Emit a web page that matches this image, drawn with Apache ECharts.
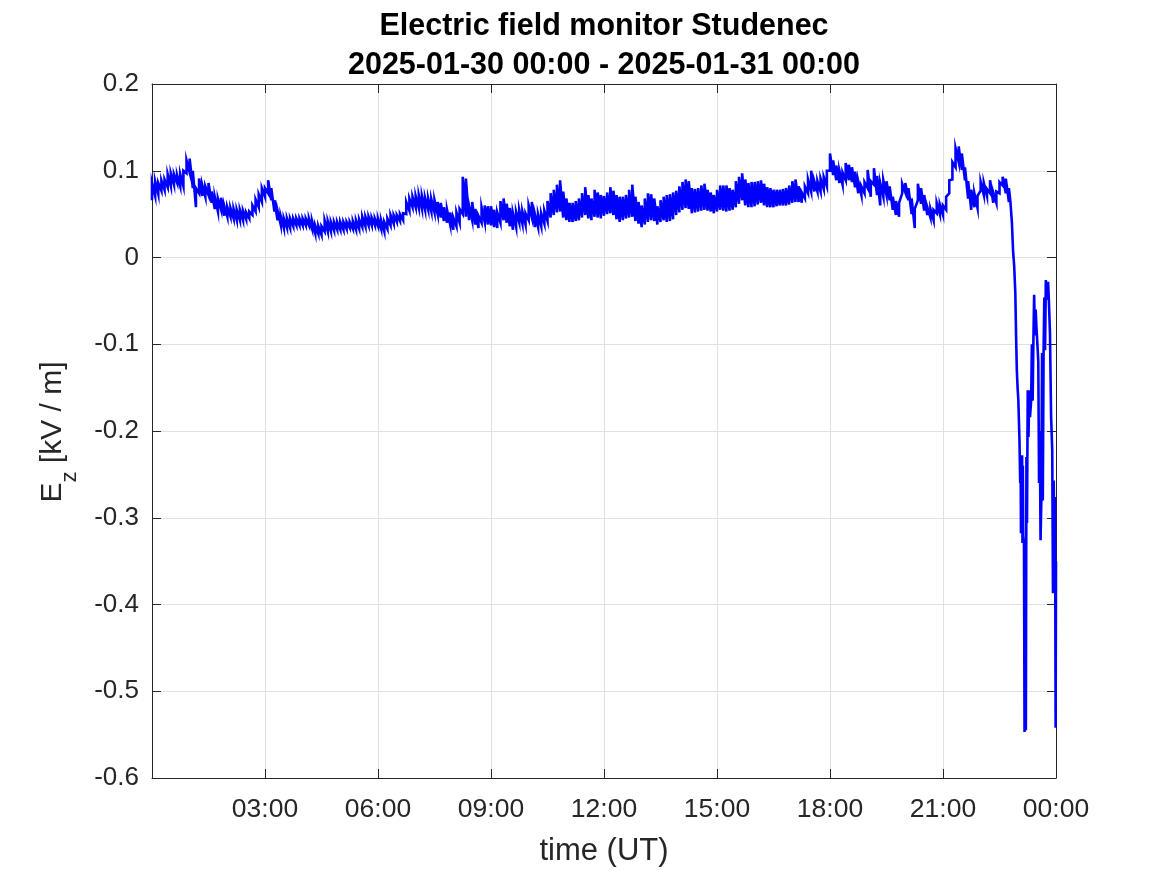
<!DOCTYPE html>
<html>
<head>
<meta charset="utf-8">
<script src="https://cdn.jsdelivr.net/npm/echarts@6/dist/echarts.min.js"></script>
<style>html,body{margin:0;padding:0;background:#fff}#c{width:1167px;height:875px}</style>
</head>
<body>
<div id="c"></div>
<script>
// Ez [kV/m]: upper and lower edge of the noisy trace, every 5 minutes from 00:00 to 22:45 UT
const stepMinutes = 5;
const ezHigh = [
 .086,.088,.086,.089,.090,.096,.097,.096,.095,.096,.100,.112,
 .114,.100,.080,.091,.084,.082,.086,.076,.070,.068,.069,.060,
 .058,.057,.056,.055,.055,.054,.052,.053,.060,.067,.073,.080,
 .080,.089,.080,.066,.054,.048,.045,.045,.045,.045,.045,.045,
 .045,.045,.045,.042,.037,.036,.036,.043,.042,.041,.041,.041,
 .041,.041,.041,.041,.042,.043,.044,.047,.047,.047,.046,.045,
 .045,.043,.041,.045,.049,.049,.049,.050,.051,.064,.068,.070,
 .071,.072,.071,.069,.068,.067,.066,.064,.063,.058,.055,.052,
 .046,.052,.056,.093,.091,.060,.064,.056,.048,.058,.060,.059,
 .059,.055,.052,.065,.068,.062,.057,.051,.053,.055,.053,.051,
 .060,.064,.050,.050,.051,.054,.065,.074,.078,.084,.089,.076,
 .068,.063,.063,.065,.068,.074,.081,.072,.068,.078,.075,.072,
 .071,.075,.081,.077,.072,.070,.070,.072,.078,.084,.070,.064,
 .060,.068,.074,.073,.068,.059,.066,.070,.072,.073,.075,.077,
 .082,.087,.090,.088,.080,.079,.080,.083,.085,.078,.075,.072,
 .078,.083,.083,.083,.080,.078,.088,.093,.097,.090,.086,.087,
 .087,.088,.089,.085,.081,.080,.078,.078,.078,.079,.080,.083,
 .088,.090,.082,.075,.082,.090,.100,.088,.088,.091,.093,.100,
 .120,.112,.106,.100,.098,.109,.107,.104,.099,.088,.082,.087,
 .101,.088,.103,.094,.086,.089,.088,.082,.070,.065,.063,.085,
 .086,.080,.068,.056,.085,.080,.072,.058,.056,.055,.063,.061,
 .060,.070,.089,.110,.126,.128,.120,.104,.088,.078,.074,.071,
 .087,.086,.079,.089,.075,.076,.087,.093,.091,.080
];
const ezLow = [
 .066,.071,.073,.077,.078,.081,.082,.084,.086,.082,.082,.097,
 .098,.080,.058,.074,.071,.070,.072,.063,.056,.053,.055,.048,
 .047,.047,.045,.043,.043,.043,.044,.045,.049,.053,.058,.064,
 .070,.074,.066,.053,.043,.038,.034,.034,.034,.036,.037,.037,
 .037,.037,.037,.033,.028,.027,.026,.030,.030,.030,.031,.032,
 .032,.032,.033,.034,.033,.032,.033,.035,.036,.037,.037,.037,
 .036,.033,.030,.033,.037,.039,.041,.042,.043,.050,.054,.058,
 .058,.057,.056,.055,.055,.053,.052,.050,.046,.042,.040,.038,
 .032,.036,.040,.050,.047,.043,.043,.038,.034,.040,.041,.038,
 .037,.035,.034,.040,.043,.040,.036,.032,.035,.040,.039,.038,
 .043,.046,.035,.035,.036,.039,.042,.046,.049,.052,.053,.046,
 .043,.041,.041,.042,.043,.046,.049,.045,.043,.047,.046,.045,
 .048,.050,.051,.049,.044,.041,.043,.045,.046,.047,.042,.039,
 .035,.038,.041,.043,.042,.038,.041,.043,.041,.042,.044,.049,
 .052,.055,.057,.056,.051,.052,.053,.054,.055,.054,.053,.051,
 .053,.055,.054,.053,.054,.055,.058,.062,.066,.060,.058,.058,
 .059,.061,.063,.060,.058,.058,.058,.059,.060,.060,.060,.061,
 .063,.064,.064,.063,.068,.074,.076,.076,.076,.076,.079,.082,
 .100,.095,.089,.086,.084,.089,.089,.087,.081,.074,.072,.074,
 .080,.070,.084,.072,.060,.070,.072,.066,.055,.049,.047,.074,
 .075,.066,.050,.034,.066,.062,.054,.049,.046,.043,.051,.050,
 .049,.055,.074,.090,.104,.110,.101,.089,.068,.055,.058,.057,
 .077,.072,.071,.074,.063,.063,.074,.083,.074,.064
];
// Final part (22:47 - 24:00 UT), irregular times in hours
const tailHours = [
 22.79,22.83,22.86,22.89,22.92,22.94,22.96,22.98,23.00,23.03,23.05,23.06,23.07,23.08,23.09,23.10,23.11,23.12,23.13,23.15,
 23.165,23.18,23.20,23.215,23.23,23.25,23.27,23.29,23.31,23.34,23.36,23.38,23.40,23.42,23.44,23.46,
 23.48,23.51,23.53,23.55,23.57,23.59,23.61,23.63,23.65,23.67,23.69,23.71,23.73,23.76,23.79,23.81,
 23.84,23.87,23.90,23.92,23.94,23.96,23.975,23.99,24.0
];
const tailValues = [
 0.064,0.040,0.008,-0.010,-0.041,-0.090,-0.130,-0.150,-0.164,-0.210,-0.260,-0.230,-0.318,-0.240,-0.300,-0.228,-0.329,-0.240,-0.320,-0.330,
 -0.547,-0.400,-0.545,-0.230,-0.306,-0.153,-0.207,-0.153,-0.184,-0.165,-0.100,-0.165,-0.095,-0.043,-0.090,-0.060,
 -0.080,-0.103,-0.120,-0.260,-0.200,-0.326,-0.280,-0.110,-0.280,-0.110,-0.046,-0.107,-0.026,-0.049,-0.028,-0.049,
 -0.087,-0.184,-0.222,-0.387,-0.257,-0.357,-0.276,-0.542,-0.350
];
const xTickHours = [0,3,6,9,12,15,18,21,24];
const yTicks = [-0.6,-0.5,-0.4,-0.3,-0.2,-0.1,0,0.1,0.2];

const seriesData = [];
ezHigh.forEach((hi,i)=>{
  const t = i*stepMinutes/60;
  seriesData.push([t, ezLow[i]], [t, hi]);
});
tailHours.forEach((h,i)=>seriesData.push([h, tailValues[i]]));

const pad = n => (n<10?'0':'')+n;
const xFmt = v => v===0 ? '' : pad(Math.round(v)%24)+':00';
const yFmt = v => { const r = Math.round(v*10)/10; return r===0 ? '0' : String(r); };

const FONT = '"Liberation Sans", Arial, Helvetica, sans-serif';
const axisCol = '#262626';
const gridCol = '#e1e1e1';

// y-axis label "E_z [kV / m]" built from three rotated text pieces
const labFS = 30, subFS = 22;
const mctx = document.createElement('canvas').getContext('2d');
mctx.font = labFS + 'px ' + FONT;
const wE = mctx.measureText('E').width;
const wRest = mctx.measureText(' [kV / m]').width;
mctx.font = subFS + 'px ' + FONT;
const wZ = mctx.measureText('z').width;
const labStart = -(wE + wZ + wRest) / 2;
const txt = (s, x, y, fs) => ({type:'text', x:x, y:y, silent:true,
  style:{text:s, fontSize:fs, fontFamily:FONT, fill:axisCol, align:'left', verticalAlign:'middle',
         textAlign:'left', textVerticalAlign:'middle'}});

const chart = echarts.init(document.getElementById('c'), null, {renderer:'canvas'});
chart.setOption({
  animation:false,
  backgroundColor:'#ffffff',
  textStyle:{fontFamily:FONT},
  title:{
    text:'Electric field monitor Studenec\n2025-01-30 00:00 - 2025-01-31 00:00',
    left:599, top:2, textAlign:'center',
    textStyle:{fontFamily:FONT, fontSize:30.5, fontWeight:'bold', color:'#000', lineHeight:39}
  },
  graphic:[{
    type:'group', x:53, y:432, rotation:Math.PI/2, silent:true,
    children:[
      txt('E', labStart, 0, labFS),
      txt('z', labStart + wE, 17, subFS),
      txt(' [kV / m]', labStart + wE + wZ, 0, labFS)
    ]
  }],
  grid:{left:152, right:111, top:84, bottom:97, containLabel:false, outerBoundsMode:'none'},
  xAxis:[{
    type:'value', min:xTickHours[0], max:xTickHours[xTickHours.length-1], interval:3,
    name:'time (UT)', nameLocation:'middle', nameGap:58,
    nameTextStyle:{fontFamily:FONT, fontSize:31, color:axisCol},
    axisLine:{show:true, onZero:false, lineStyle:{color:axisCol, width:1}},
    axisTick:{show:true, inside:true, length:9, lineStyle:{color:axisCol}},
    axisLabel:{formatter:xFmt, fontFamily:FONT, fontSize:26.5, color:axisCol, margin:18},
    splitLine:{show:true, lineStyle:{color:gridCol, width:1}}
  },{
    type:'value', position:'top', min:0, max:24, interval:3,
    axisLine:{show:true, onZero:false, lineStyle:{color:axisCol, width:1}},
    axisTick:{show:true, inside:true, length:9, lineStyle:{color:axisCol}},
    axisLabel:{show:false}, splitLine:{show:false}
  }],
  yAxis:[{
    type:'value', min:yTicks[0], max:yTicks[yTicks.length-1], interval:0.1,
    axisLine:{show:true, onZero:false, lineStyle:{color:axisCol, width:1}},
    axisTick:{show:true, inside:true, length:9, lineStyle:{color:axisCol}},
    axisLabel:{formatter:yFmt, fontFamily:FONT, fontSize:26, color:axisCol, margin:13, padding:[5,0,0,0]},
    splitLine:{show:true, lineStyle:{color:gridCol, width:1}}
  },{
    type:'value', position:'right', min:-0.6, max:0.2, interval:0.1,
    axisLine:{show:true, onZero:false, lineStyle:{color:axisCol, width:1}},
    axisTick:{show:true, inside:true, length:9, lineStyle:{color:axisCol}},
    axisLabel:{show:false}, splitLine:{show:false}
  }],
  series:[{
    type:'line', data:seriesData, xAxisIndex:0, yAxisIndex:0,
    showSymbol:false, symbol:'none', sampling:null, clip:true,
    lineStyle:{color:'#0000ff', width:2.6, join:'miter'}
  }]
});
</script>
</body>
</html>
